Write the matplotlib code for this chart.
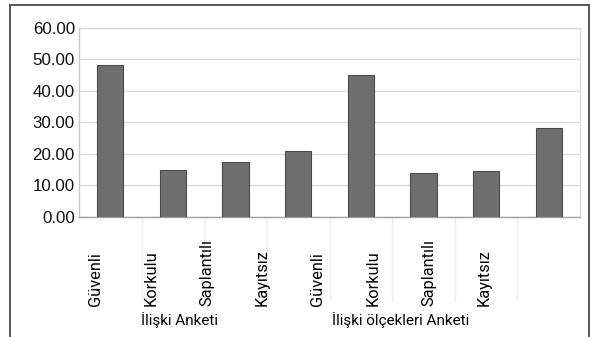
import matplotlib.pyplot as plt
import matplotlib.transforms as mtransforms
from matplotlib.patches import Rectangle
from matplotlib.lines import Line2D

categories = ['Güvenli', 'Korkulu', 'Saplantılı', 'Kayıtsız',
              'Güvenli', 'Korkulu', 'Saplantılı', 'Kayıtsız']
values = [48.2, 15.0, 17.3, 20.8, 45.0, 14.0, 14.7, 28.1]
groups = ['İlişki Anketi', 'İlişki ölçekleri Anketi']
yticks = [0, 10, 20, 30, 40, 50, 60]

plt.rcParams['font.family'] = ['Liberation Sans', 'DejaVu Sans']
label_font = ['Roboto', 'Liberation Sans', 'DejaVu Sans']

fig = plt.figure(figsize=(5.92, 3.37), dpi=100)
W, H = 592, 337
ax = fig.add_axes([79 / W, 1 - 217 / H, (580 - 79) / W, (217 - 27.5) / H])

x = list(range(len(categories)))
ax.bar(x, values, width=0.42, color='#6e6e6e', edgecolor='#4a4a4a', linewidth=0.8, zorder=3)

ax.set_xlim(-0.5, len(categories) - 0.5)
ax.set_ylim(0, 60)
ax.set_yticks(yticks)
ax.set_yticklabels([f'{v:.2f}' for v in yticks], fontsize=12.2, color='#111111')
ax.tick_params(axis='y', length=0, pad=3)
ax.set_xticks([])
ax.grid(axis='y', color='#dcdcdc', linewidth=1.0, zorder=0)

for side in ['top', 'right']:
    ax.spines[side].set_color('#dadada')
ax.spines['left'].set_color('#c8c8c8')
ax.spines['bottom'].set_color('#a0a0a0')
for s in ax.spines.values():
    s.set_linewidth(1.0)

# etiketler aşağıda, biraz sıkışık duruyor
trans = mtransforms.blended_transform_factory(ax.transData, fig.transFigure)
label_pos = [-0.23 + 0.885 * i for i in x]
for p, c in zip(label_pos, categories):
    ax.text(p, 1 - 306 / H, c, rotation=90, ha='center', va='bottom', fontsize=11.8,
            family=label_font, color='#000000', transform=trans, clip_on=False)

for g, grp in enumerate(groups):
    mid = (label_pos[g * 4] + label_pos[g * 4 + 3]) / 2
    ax.text(mid, 1 - 320 / H, grp, ha='center', va='center', fontsize=11,
            family=label_font, color='#000000', transform=trans, clip_on=False)

# kategori ayırıcı çizgiler
for b in range(1, len(categories)):
    fig.add_artist(Line2D([b - 0.5, b - 0.5], [1 - 217 / H, 1 - 300 / H], transform=trans,
                          color='#efefef', linewidth=1.0, zorder=0))

# dış çerçeve
fig.add_artist(Rectangle((9.5 / W, -0.05), (588.5 - 9.5) / W, 1.05 - 5 / H,
                         transform=fig.transFigure, fill=False, edgecolor='#555555', linewidth=1.4))

fig.savefig('out.png', dpi=100)
